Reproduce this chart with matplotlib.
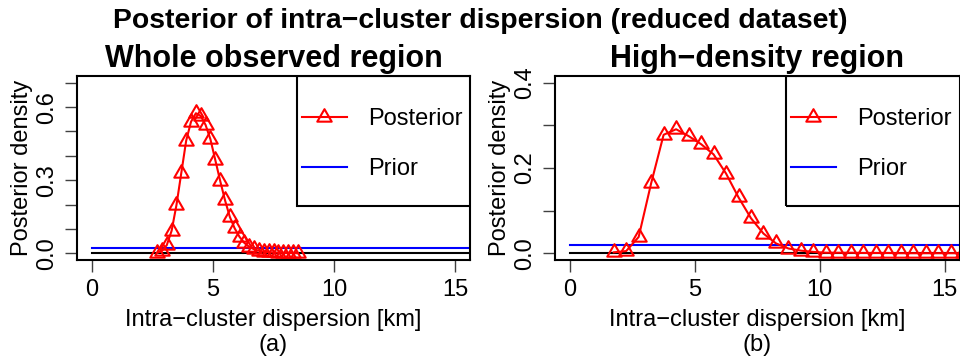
import numpy as np
import matplotlib.pyplot as plt
from matplotlib.path import Path
from matplotlib.patches import Rectangle

plt.rcParams['font.family'] = ['Liberation Sans', 'DejaVu Sans']

# whole observed region (bins of 0.2 km)
x_whole = [2.7, 2.9, 3.1, 3.3, 3.5, 3.7, 3.9, 4.1, 4.3, 4.5, 4.7, 4.9, 5.1, 5.3, 5.5,
           5.7, 5.9, 6.1, 6.3, 6.5, 6.7, 6.9, 7.1, 7.3, 7.5, 7.7, 7.9, 8.1, 8.3, 8.5]
post_whole = [0.001, 0.009, 0.033, 0.092, 0.198, 0.330, 0.462, 0.540, 0.575, 0.564,
              0.527, 0.468, 0.383, 0.298, 0.218, 0.149, 0.102, 0.067, 0.042, 0.026,
              0.016, 0.010, 0.006, 0.004, 0.003, 0.002, 0.001, 0.001, 0.0005, 0.0]

# high-density region (bins of 0.5 km)
x_high = [1.75, 2.25, 2.75, 3.25, 3.75, 4.25, 4.75, 5.25, 5.75, 6.25, 6.75, 7.25, 7.75,
          8.25, 8.75, 9.25, 9.75, 10.25, 10.75, 11.25, 11.75, 12.25, 12.75, 13.25,
          13.75, 14.25, 14.75, 15.25, 15.75]
post_high = [0.002, 0.005, 0.038, 0.164, 0.278, 0.291, 0.275, 0.256, 0.232, 0.187,
             0.131, 0.082, 0.046, 0.023, 0.011, 0.006, 0.003, 0.001, 0.001, 0.001,
             0.0005, 0.0005, 0.0005, 0.0, 0.0, 0.0, 0.0, 0.0, 0.0]

# uniform prior
prior_x = [0, 50]
prior_density = [0.02, 0.02]

panels = [
    ("Whole observed region", "(a)", x_whole, post_whole, [0, 0.1, 0.2, 0.3, 0.4, 0.5, 0.6, 0.7],
     ["0.0", "", "", "0.3", "", "", "0.6", ""], (-0.028, 0.728)),
    ("High\u2212density region", "(b)", x_high, post_high, [0, 0.1, 0.2, 0.3, 0.4],
     ["0.0", "", "0.2", "", "0.4"], (-0.016, 0.416)),
]
xticks = [0, 5, 10, 15]

# R style triangle (pch = 2), centred on its centroid
tri = Path([(0, 1.555), (1.347, -0.778), (-1.347, -0.778), (0, 1.555)],
           [Path.MOVETO, Path.LINETO, Path.LINETO, Path.CLOSEPOLY])

W, H = 960, 364
fig = plt.figure(figsize=(9.6, 3.64), dpi=100)
boxes = [(77, 76, 470, 260), (555, 76, 959.5, 260)]
leg_left = [297, 786]

fs = 17
for (title, sub, xs, ys, yt, ytl, ylim), (l, t, r, b), ll in zip(panels, boxes, leg_left):
    ax = fig.add_axes([l / W, 1 - b / H, (r - l) / W, (b - t) / H])
    ax.plot(prior_x, [0, 0], color='black', lw=1.5)
    ax.plot(prior_x, prior_density, color='blue', lw=1.5, label='Prior')
    ax.plot(xs, ys, color='red', lw=1.5, marker=tri, ms=12, mfc='none',
            mec='red', mew=1.5, label='Posterior')
    ax.set_xlim(-0.6, 15.6)
    ax.set_ylim(*ylim)
    ax.set_xticks(xticks)
    ax.set_xticklabels([str(v) for v in xticks], fontsize=fs)
    ax.set_yticks(yt)
    ax.set_yticklabels(ytl, fontsize=fs, rotation=90, va='center')
    ax.tick_params(length=8.6, width=1.0, color='0.25', pad=5)
    ax.tick_params(axis='y', pad=5)
    for s in ax.spines.values():
        s.set_linewidth(1.5)
    ax.set_title(title, fontsize=22, fontweight='bold', pad=6.5)
    ax.set_ylabel("Posterior density", fontsize=fs, labelpad=2)
    ax.set_xlabel("Intra\u2212cluster dispersion [km]\n" + sub, fontsize=fs, labelpad=6,
                  linespacing=1.15)

    # legend frame like R's topright legend box
    x0 = (ll - l) / (r - l)
    y0 = (b - 206) / (b - t)
    ax.add_patch(Rectangle((x0, y0), 1.2 - x0, 1 - y0, transform=ax.transAxes,
                           fill=False, ec='black', lw=1.5, clip_on=True))
    h, lab = ax.get_legend_handles_labels()
    ax.legend(h[::-1], lab[::-1], loc='center left',
              bbox_to_anchor=(x0 + 5 / (r - l), (b - 144) / (b - t)),
              frameon=False, fontsize=fs, borderpad=0, borderaxespad=0,
              handlelength=1.9, handletextpad=0.9, labelspacing=1.2)

fig.text(0.5, 1 - 28 / H, "Posterior of intra\u2212cluster dispersion (reduced dataset)",
         ha='center', va='baseline', fontsize=20.4, fontweight='bold')

fig.savefig("out.png", dpi=100)
